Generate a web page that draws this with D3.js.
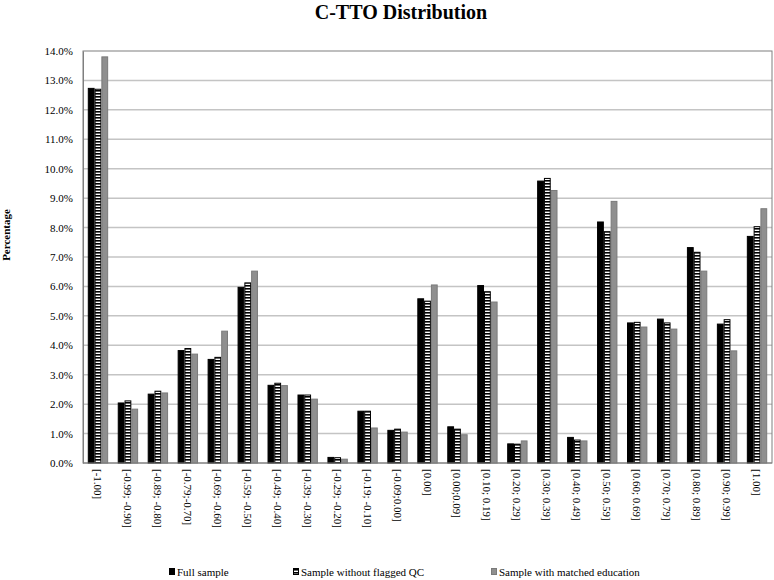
<!DOCTYPE html>
<html>
<head>
<meta charset="utf-8">
<script src="https://cdn.jsdelivr.net/npm/d3@7"></script>
<style>
  body { margin: 0; background: #fff; }
  svg { display: block; }
  svg text { font-family: "Liberation Serif", "DejaVu Serif", serif; }
</style>
</head>
<body>
<svg id="chart" width="774" height="580"></svg>
<script>
const categories = ["[-1.00]", "[-0.99; -0.90]", "[-0.89; -0.80]", "[-0.79;-0.70]", "[-0.69; -0.60]",
    "[-0.59; -0.50]", "[-0.49; -0.40]", "[-0.39; -0.30]", "[-0.29; -0.20]", "[-0.19; -0.10]",
    "[-0.09;0.00]", "[0.00]", "[0.00;0.09]", "[0.10; 0.19]", "[0.20; 0.29]", "[0.30; 0.39]",
    "[0.40; 0.49]", "[0.50; 0.59]", "[0.60; 0.69]", "[0.70; 0.79]", "[0.80; 0.89]", "[0.90; 0.99]", "[1.00]"];

const seriesNames = ["Full sample", "Sample without flagged QC", "Sample with matched education"];

const fullSample = [12.73, 2.04, 2.34, 3.82, 3.52, 5.97, 2.64, 2.31, 0.19, 1.76, 1.11, 5.58,
    1.23, 6.03, 0.65, 9.58, 0.87, 8.19, 4.76, 4.89, 7.32, 4.72, 7.70];
const withoutQC = [12.70, 2.11, 2.44, 3.89, 3.59, 6.12, 2.71, 2.31, 0.18, 1.76, 1.15, 5.50,
    1.15, 5.82, 0.64, 9.67, 0.78, 7.86, 4.78, 4.76, 7.16, 4.87, 8.03];
const matchedEdu = [13.80, 1.83, 2.38, 3.70, 4.48, 6.52, 2.63, 2.17, 0.13, 1.19, 1.05, 6.05,
    0.96, 5.47, 0.75, 9.26, 0.75, 8.89, 4.62, 4.55, 6.52, 3.81, 8.64];

const yTicks = d3.range(0, 14.01, 1);

const series = [fullSample, withoutQC, matchedEdu];

const svg = d3.select("#chart");
const plotLeft = 83, plotRight = 772, plotTop = 51, plotBottom = 463;

const defs = svg.append("defs");
const stripes = defs.append("pattern")
    .attr("id", "stripes")
    .attr("patternUnits", "userSpaceOnUse")
    .attr("width", 4)
    .attr("height", 3);
stripes.append("rect").attr("width", 4).attr("height", 3).attr("fill", "#fff");
stripes.append("rect").attr("width", 4).attr("height", 1.6).attr("fill", "#000");

const fills = ["#000", "url(#stripes)", "#8f8f8f"];
const strokes = ["#000", "#000", "#7a7a7a"];

const x0 = d3.scaleBand()
    .domain(categories)
    .range([plotLeft, plotRight])
    .paddingInner(0.32)
    .paddingOuter(0.16);

const x1 = d3.scaleBand()
    .domain(d3.range(series.length))
    .range([0, x0.bandwidth()]);

const y = d3.scaleLinear()
    .domain([0, 14])
    .range([plotBottom, plotTop]);

// Title
svg.append("text")
    .attr("x", 401)
    .attr("y", 19)
    .attr("text-anchor", "middle")
    .attr("font-weight", "bold")
    .attr("font-size", 20)
    .text("C-TTO Distribution");

// Grid lines
svg.append("g")
    .selectAll("line")
    .data(yTicks.filter(d => d > 0 && d < 14))
    .enter()
    .append("line")
    .attr("x1", plotLeft)
    .attr("x2", plotRight)
    .attr("y1", d => y(d))
    .attr("y2", d => y(d))
    .attr("stroke", "#c4c4c4")
    .attr("stroke-width", 1.5);

// Plot border
svg.append("rect")
    .attr("x", plotLeft)
    .attr("y", plotTop)
    .attr("width", plotRight - plotLeft)
    .attr("height", plotBottom - plotTop)
    .attr("fill", "none")
    .attr("stroke", "#7f7f7f")
    .attr("stroke-width", 1);

// Y axis
const yAxis = svg.append("g")
    .attr("transform", `translate(${plotLeft},0)`)
    .call(d3.axisLeft(y).tickValues(yTicks).tickSize(0).tickPadding(10).tickFormat(d => d.toFixed(1) + "%"));
yAxis.select(".domain").attr("stroke", "#7f7f7f");
yAxis.selectAll("text")
    .attr("font-size", 11)
    .attr("fill", "#000");

svg.append("text")
    .attr("transform", "translate(10,235) rotate(-90)")
    .attr("text-anchor", "middle")
    .attr("font-weight", "bold")
    .attr("font-size", 11)
    .text("Percentage");

// Bars
const groups = svg.append("g")
    .selectAll("g")
    .data(categories)
    .enter()
    .append("g")
    .attr("transform", d => `translate(${x0(d)},0)`);

groups.selectAll("rect")
    .data((d, i) => series.map((s, k) => ({ k, v: s[i] })))
    .enter()
    .append("rect")
    .attr("x", d => x1(d.k) + 0.5)
    .attr("y", d => y(d.v))
    .attr("width", x1.bandwidth() - 1)
    .attr("height", d => plotBottom - y(d.v))
    .attr("fill", d => fills[d.k])
    .attr("stroke", d => strokes[d.k])
    .attr("stroke-width", 1);

// Baseline
svg.append("line")
    .attr("x1", plotLeft)
    .attr("x2", plotRight)
    .attr("y1", plotBottom)
    .attr("y2", plotBottom)
    .attr("stroke", "#7f7f7f");

// X labels
svg.append("g")
    .selectAll("text")
    .data(categories)
    .enter()
    .append("text")
    .attr("transform", d => `translate(${x0(d) + x0.bandwidth() / 2 - 4},469) rotate(90)`)
    .attr("font-size", 11)
    .text(d => d);

// Legend
const legendX = [169, 293, 491];
const legend = svg.append("g")
    .selectAll("g")
    .data(seriesNames)
    .enter()
    .append("g")
    .attr("transform", (d, i) => `translate(${legendX[i]},572)`);

legend.append("rect")
    .attr("x", 0.5)
    .attr("y", -3.5)
    .attr("width", 5)
    .attr("height", 6)
    .attr("fill", (d, i) => fills[i])
    .attr("stroke", (d, i) => strokes[i])
    .attr("stroke-width", 1);

legend.append("text")
    .attr("x", 8)
    .attr("y", 4)
    .attr("font-size", 11)
    .text(d => d);
</script>
</body>
</html>
